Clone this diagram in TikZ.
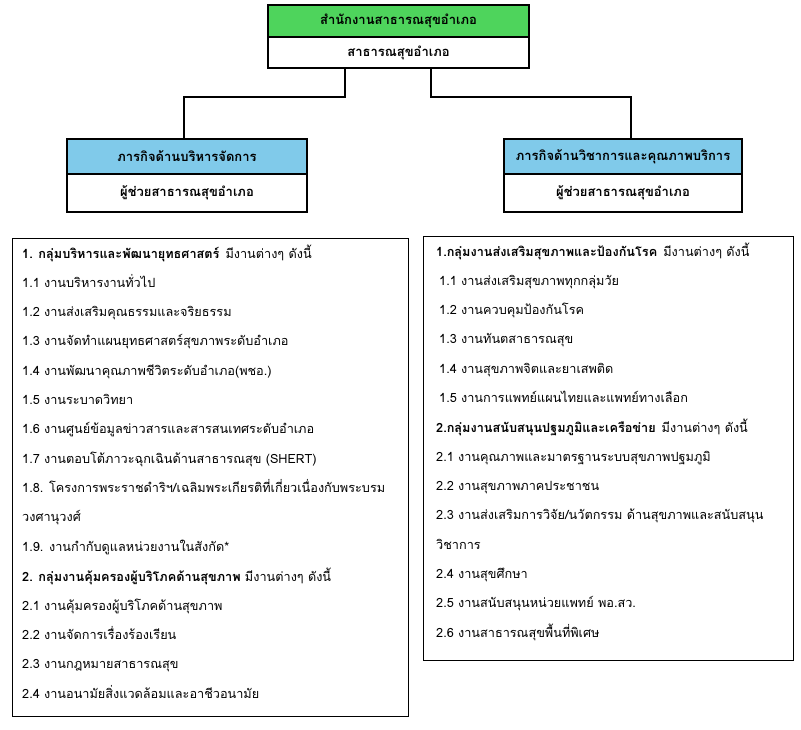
\documentclass[tikz,border=0pt]{standalone}
\usepackage{fontspec}
\setmainfont[Script=Thai]{Loma}
\usetikzlibrary{positioning}

\definecolor{headgreen}{RGB}{78,212,92}
\definecolor{headblue}{RGB}{128,202,234}

\tikzset{
	boxtext/.style={draw, line width=1.2pt, inner sep=0pt, font=\fontsize{13}{15}\selectfont\bfseries},
	conn/.style={line width=2.6pt, line cap=rect},
	listbox/.style={draw, line width=1pt, inner sep=0pt},
	item/.style={anchor=west, inner sep=0pt, text height=9pt, text depth=3pt, font=\fontsize{12.7}{14}\selectfont}
}

\begin{document}
\begin{tikzpicture}[x=1pt, y=-1pt]
		\useasboundingbox (0,0) rectangle (801,729);

		% top office
		\node[boxtext, fill=headgreen, minimum width=261pt, minimum height=32pt] (office) at (398.5,21) {สำนักงานสาธารณสุขอำเภอ};
		\node[boxtext, minimum width=261pt, minimum height=31pt] (officesub) at (398.5,52.5) {สาธารณสุขอำเภอ};

		% two missions
		\node[boxtext, fill=headblue, minimum width=240pt, minimum height=35pt] (adminhead) at (187,156.5) {ภารกิจด้านบริหารจัดการ};
		\node[boxtext, minimum width=240pt, minimum height=38pt] (adminsub) at (187,193) {ผู้ช่วยสาธารณสุขอำเภอ};
		\node[boxtext, fill=headblue, minimum width=238pt, minimum height=35pt] (acadhead) at (623,156.5) {ภารกิจด้านวิชาการและคุณภาพบริการ};
		\node[boxtext, minimum width=238pt, minimum height=38pt] (acadsub) at (623,193) {ผู้ช่วยสาธารณสุขอำเภอ};

		\coordinate (jl) at (345,97);
		\coordinate (jr) at (431,97);
		\draw[conn] (officesub.south -| jl) -- (jl) -| ([xshift=-3pt]adminhead.north);
		\draw[conn] (officesub.south -| jr) -- (jr) -| ([xshift=8pt]acadhead.north);

		% list boxes
		\node[listbox, minimum width=396pt, minimum height=478pt] (adminlist) at (210,477) {};
		\node[listbox, minimum width=370pt, minimum height=424pt] (acadlist) at (608,448) {};

		% left list
		\node[item] (ah1) at (22,255) {\textbf{1. กลุ่มบริหารและพัฒนายุทธศาสตร์}\hspace{6pt}มีงานต่างๆ ดังนี้};
		\foreach \t [count=\i] in {1.1 งานบริหารงานทั่วไป,
			1.2 งานส่งเสริมคุณธรรมและจริยธรรม,
			1.3 งานจัดทำแผนยุทธศาสตร์สุขภาพระดับอำเภอ,
			1.4 งานพัฒนาคุณภาพชีวิตระดับอำเภอ(พชอ.),
			1.5 งานระบาดวิทยา,
			1.6 งานศูนย์ข้อมูลข่าวสารและสารสนเทศระดับอำเภอ,
			1.7 งานตอบโต้ภาวะฉุกเฉินด้านสาธารณสุข (SHERT),
			1.8. โครงการพระราชดำริฯ/เฉลิมพระเกียรติที่เกี่ยวเนื่องกับพระบรม,
			วงศานุวงศ์,
			1.9. งานกำกับดูแลหน่วยงานในสังกัด*}{
			\node[item] (a\i) at (22,255+29.3*\i) {\t};
		}
		\node[item] (ah2) at (22,578) {\textbf{2. กลุ่มงานคุ้มครองผู้บริโภคด้านสุขภาพ} มีงานต่างๆ ดังนี้};
		\foreach \t [count=\i] in {2.1 งานคุ้มครองผู้บริโภคด้านสุขภาพ,
			2.2 งานจัดการเรื่องร้องเรียน,
			2.3 งานกฎหมายสาธารณสุข,
			2.4 งานอนามัยสิ่งแวดล้อมและอาชีวอนามัย}{
			\node[item] (b\i) at (22,578+29.3*\i) {\t};
		}

		% right list
		\node[item] (ch1) at (436,253) {\textbf{1.กลุ่มงานส่งเสริมสุขภาพและป้องกันโรค}\hspace{6pt}มีงานต่างๆ ดังนี้};
		\foreach \t [count=\i] in {1.1 งานส่งเสริมสุขภาพทุกกลุ่มวัย,
			1.2 งานควบคุมป้องกันโรค,
			1.3 งานทันตสาธารณสุข,
			1.4 งานสุขภาพจิตและยาเสพติด,
			1.5 งานการแพทย์แผนไทยและแพทย์ทางเลือก}{
			\node[item] (c\i) at (439,253+29.3*\i) {\t};
		}
		\node[item] (ch2) at (436,429) {\textbf{2.กลุ่มงานสนับสนุนปฐมภูมิและเครือข่าย}\hspace{6pt}มีงานต่างๆ ดังนี้};
		\foreach \t [count=\i] in {2.1 งานคุณภาพและมาตรฐานระบบสุขภาพปฐมภูมิ,
			2.2 งานสุขภาพภาคประชาชน,
			2.3 งานส่งเสริมการวิจัย/นวัตกรรม ด้านสุขภาพและสนับสนุน,
			วิชาการ,
			2.4 งานสุขศึกษา,
			2.5 งานสนับสนุนหน่วยแพทย์ พอ.สว.,
			2.6 งานสาธารณสุขพื้นที่พิเศษ}{
			\node[item] (d\i) at (436,429+29.3*\i) {\t};
		}
	\end{tikzpicture}
\end{document}
